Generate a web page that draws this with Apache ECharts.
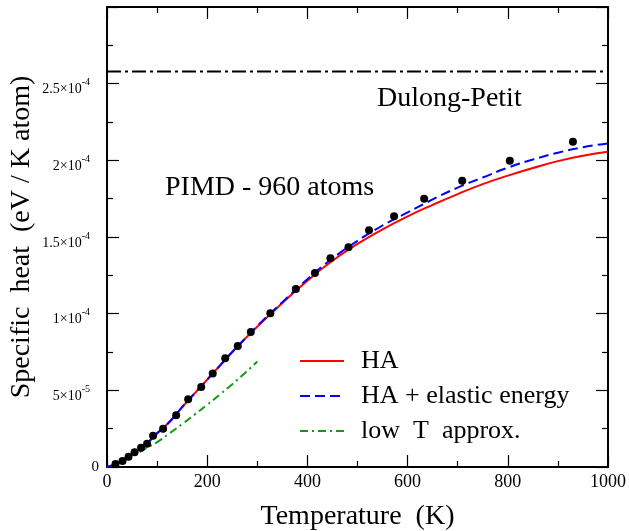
<!DOCTYPE html>
<html>
<head>
<meta charset="utf-8">
<script src="https://cdn.jsdelivr.net/npm/echarts@6/dist/echarts.min.js"></script>
<style>
html,body{margin:0;padding:0;background:#fff;}
#chart{width:629px;height:531px;}
</style>
</head>
<body>
<div id="chart"></div>
<script>
// ---- data ----
const pimdT = [17, 31, 43, 55, 68, 80, 92, 112, 138, 162, 188, 211, 236, 261, 287, 326, 377, 415, 446, 482, 523, 573, 633, 709, 804, 930];
const pimdC = [1.96e-6, 3.9e-6, 6.7e-6, 9.6e-6, 1.26e-5, 1.52e-5, 2.04e-5, 2.50e-5, 3.37e-5, 4.42e-5, 5.22e-5, 6.09e-5, 7.09e-5, 7.89e-5, 8.80e-5, 1.002e-4, 1.161e-4, 1.265e-4, 1.361e-4, 1.433e-4, 1.544e-4, 1.635e-4, 1.750e-4, 1.867e-4, 1.998e-4, 2.122e-4];

const curveT = [0, 25, 50, 75, 100, 125, 150, 175, 200, 225, 250, 275, 300, 350, 400, 450, 500, 550, 600, 650, 700, 750, 800, 850, 900, 950, 1000];
const haC = [0, 3.0e-6, 8.4e-6, 1.40e-5, 2.2e-5, 2.95e-5, 3.9e-5, 4.8e-5, 5.7e-5, 6.6e-5, 7.5e-5, 8.35e-5, 9.15e-5, 1.07e-4, 1.215e-4, 1.345e-4, 1.455e-4, 1.55e-4, 1.635e-4, 1.71e-4, 1.78e-4, 1.845e-4, 1.90e-4, 1.95e-4, 1.995e-4, 2.03e-4, 2.056e-4];
const haElC = [0, 3.0e-6, 8.4e-6, 1.40e-5, 2.2e-5, 2.95e-5, 3.9e-5, 4.8e-5, 5.7e-5, 6.6e-5, 7.5e-5, 8.35e-5, 9.2e-5, 1.075e-4, 1.225e-4, 1.36e-4, 1.475e-4, 1.575e-4, 1.66e-4, 1.745e-4, 1.822e-4, 1.888e-4, 1.952e-4, 2.005e-4, 2.05e-4, 2.085e-4, 2.111e-4];

const lowT = [0, 20, 40, 60, 80, 100, 125, 150, 175, 200, 225, 250, 275, 300];
const lowC = [0, 2.2e-6, 5.2e-6, 8.8e-6, 1.25e-5, 1.62e-5, 2.2e-5, 2.8e-5, 3.42e-5, 4.06e-5, 4.72e-5, 5.4e-5, 6.12e-5, 6.88e-5];

const dpT = [0, 1000];
const dpC = [2.58e-4, 2.58e-4];

const seriesNames = ['HA', 'HA + elastic energy', 'low  T  approx.'];
const yTickMant = ['0', '5', '1', '1.5', '2', '2.5'];
const yTickExp = ['', '-5', '-4', '-4', '-4', '-4'];
const xTitle = 'Temperature  (K)';
const yTitle = 'Specific  heat  (eV / K atom)';
const noteDP = 'Dulong-Petit';
const notePIMD = 'PIMD - 960 atoms';

// ---- chart ----
const FONT = "'Liberation Serif','Times New Roman',serif";
const zip = (a, b) => a.map((v, i) => [v, b[i]]);
const chart = echarts.init(document.getElementById('chart'), null, {renderer: 'canvas'});

const axisLine = {show: true, onZero: false, lineStyle: {color: '#000', width: 2}};
const axisTick = {show: true, inside: true, length: 12, lineStyle: {color: '#000', width: 1.2}};
const minorTick = {show: true, splitNumber: 2, length: 6, lineStyle: {color: '#000', width: 1.2}};

const option = {
  animation: false,
  backgroundColor: '#fff',
  grid: {left: 107, right: 21, top: 7, bottom: 64, containLabel: false, outerBoundsMode: 'none'},
  xAxis: [{
    type: 'value', min: 0, max: 1000, interval: 200, position: 'bottom',
    axisLine, axisTick, minorTick, splitLine: {show: false}, minorSplitLine: {show: false},
    axisLabel: {fontSize: 18, color: '#000', fontFamily: FONT, margin: 6, formatter: v => String(v)},
    name: xTitle, nameLocation: 'middle', nameGap: 36, nameMoveOverlap: false,
    nameTextStyle: {fontSize: 28, color: '#000', fontFamily: FONT}
  }, {
    type: 'value', min: 0, max: 1000, interval: 200, position: 'top',
    axisLine, axisTick, minorTick, splitLine: {show: false}, axisLabel: {show: false}
  }],
  yAxis: [{
    type: 'value', min: 0, max: 3e-4, interval: 5e-5, position: 'left',
    axisLine, axisTick, minorTick, splitLine: {show: false}, minorSplitLine: {show: false},
    axisLabel: {
      color: '#000', fontFamily: FONT, margin: 8,
      formatter: function (v) {
        const i = Math.round(v / 5e-5);
        if (i >= yTickMant.length) return '';
        if (i === 0) return '{z|' + yTickMant[0] + '}';
        return '{b|' + yTickMant[i] + '×10}{s|' + yTickExp[i] + '}';
      },
      rich: {
        z: {fontSize: 15, fontFamily: FONT, color: '#000'},
        b: {fontSize: 14, fontFamily: FONT, color: '#000', padding: [12, 0, 0, 0]},
        s: {fontSize: 10, fontFamily: FONT, color: '#000', verticalAlign: 'top', padding: [7, 9, 0, 0]}
      }
    },
    name: yTitle, nameLocation: 'middle', nameGap: 71, nameMoveOverlap: false,
    nameTextStyle: {fontSize: 28, color: '#000', fontFamily: FONT}
  }, {
    type: 'value', min: 0, max: 3e-4, interval: 5e-5, position: 'right',
    axisLine, axisTick, minorTick, splitLine: {show: false}, axisLabel: {show: false}
  }],
  legend: {
    data: seriesNames, orient: 'vertical', left: 299, top: 348,
    itemWidth: 44, itemHeight: 14, itemGap: 9, padding: 0,
    itemStyle: {opacity: 0},
    textStyle: {fontSize: 26, fontFamily: FONT, color: '#000', padding: [0, 0, 0, 12]}
  },
  series: [
    {name: 'Dulong-Petit', type: 'line', data: zip(dpT, dpC), symbol: 'none',
     lineStyle: {color: '#000', width: 2, type: [14, 4, 3, 4]}, z: 2},
    {name: seriesNames[2], type: 'line', data: zip(lowT, lowC), symbol: 'none', smooth: true,
     lineStyle: {color: '#129a12', width: 2, type: [8, 4, 2, 4]}, itemStyle: {color: '#129a12'}, z: 3},
    {name: seriesNames[0], type: 'line', data: zip(curveT, haC), symbol: 'none', smooth: true,
     lineStyle: {color: '#ff0000', width: 2, type: 'solid'}, itemStyle: {color: '#ff0000'}, z: 4},
    {name: seriesNames[1], type: 'line', data: zip(curveT, haElC), symbol: 'none', smooth: true,
     lineStyle: {color: '#0000ff', width: 2, type: [10, 5]}, itemStyle: {color: '#0000ff'}, z: 5},
    {name: 'PIMD', type: 'scatter', data: zip(pimdT, pimdC), symbol: 'circle', symbolSize: 8,
     itemStyle: {color: '#000', opacity: 1}, z: 6}
  ],
  graphic: [
    {type: 'text', left: 377, top: 85, z: 10,
     style: {text: noteDP, font: '28px ' + FONT, fill: '#000'}},
    {type: 'text', left: 165, top: 174, z: 10,
     style: {text: notePIMD, font: '28px ' + FONT, fill: '#000'}}
  ]
};
chart.setOption(option);
</script>
</body>
</html>
